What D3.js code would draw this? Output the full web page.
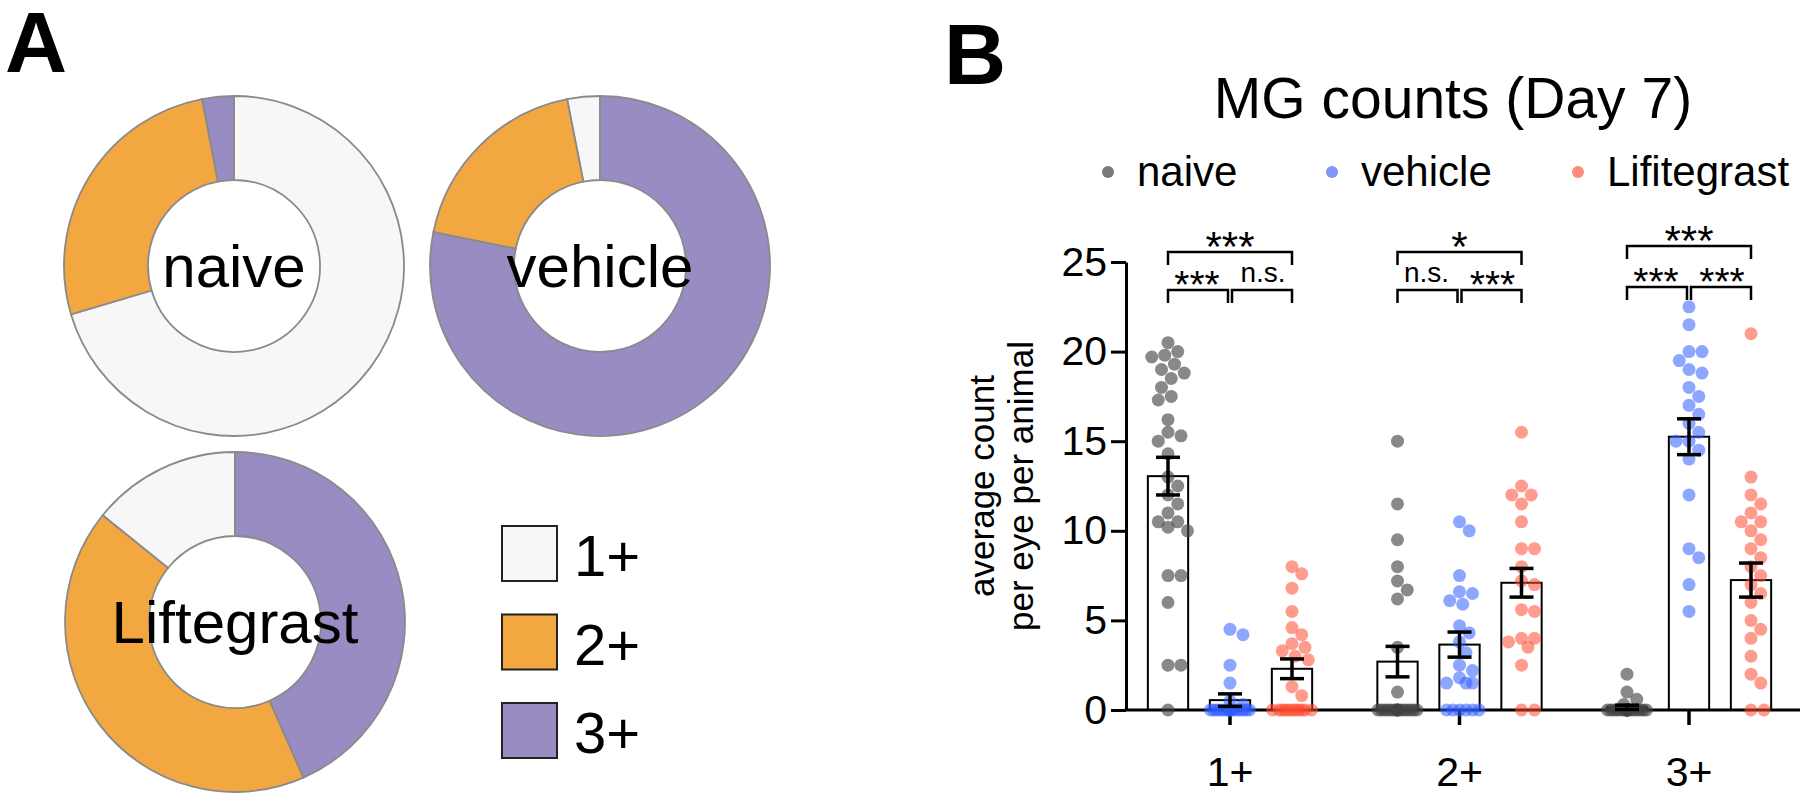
<!DOCTYPE html>
<html>
<head>
<meta charset="utf-8">
<script src="https://cdn.jsdelivr.net/npm/d3@7"></script>
<style>
body{margin:0;background:#fff;}
svg{font-family:"Liberation Sans",Arial,sans-serif;}
</style>
</head>
<body>
<div id="container"></div>
<script>
// panel A: share of eyes per MG grade
var grades = ['1+', '2+', '3+'];
var gradeColors = ['#f7f7f7', '#f3a740', '#998cc3'];
var pieNames = ['naive', 'vehicle', 'Liftegrast'];
var pieNaive = [70.4, 26.6, 3.0];
var pieVehicle = [3.1, 18.7, 78.2];
var pieLift = [14.2, 42.4, 43.4];

// panel B: MG counts per grade
var groups = ['naive', 'vehicle', 'Lifitegrast'];
var legendColors = ['#7a7a7a', '#7b98fb', '#fc8c7a'];
var dotColors = ['#404040', '#2f5cff', '#ff4a30'];
var yTicks = [0, 5, 10, 15, 20, 25];

var mean1 = [13.05, 0.55, 2.3];
var mean2 = [2.7, 3.65, 7.1];
var mean3 = [0.15, 15.25, 7.25];
var sem1 = [1.05, 0.35, 0.55];
var sem2 = [0.85, 0.7, 0.8];
var sem3 = [0.12, 1.0, 0.95];

var pts1Naive = [20.5, 20, 19.8, 19.7, 19.3, 19, 18.8, 18.5, 18, 17.5, 17.3, 16.2, 15.5, 15.3, 15, 14.3, 13, 12.5, 12, 11.5, 11, 10.5, 10.5, 10.2, 10, 7.5, 7.5, 6, 2.5, 2.5, 0];
var pts1Vehicle = [4.5, 4.2, 2.5, 1.5, 0.5, 0.3, 0, 0, 0, 0, 0, 0, 0, 0, 0, 0, 0, 0, 0, 0, 0, 0];
var pts1Lift = [8, 7.6, 6.8, 5.5, 4.6, 4.2, 3.7, 3.5, 3.3, 3, 2.8, 1.3, 0.8, 0, 0, 0, 0, 0, 0, 0, 0, 0, 0, 0];
var pts2Naive = [15, 11.5, 9.5, 8, 7.2, 6.7, 6.2, 3.5, 1, 0, 0, 0, 0, 0, 0, 0, 0, 0, 0, 0, 0, 0, 0, 0, 0];
var pts2Vehicle = [10.5, 10, 7.5, 6.6, 6.5, 6.1, 5.9, 4.7, 4.3, 3.8, 3.2, 2.5, 2.2, 1.8, 1.5, 1.5, 1.5, 0, 0, 0, 0, 0, 0];
var pts2Lift = [15.5, 12.5, 12, 12, 11.5, 10.5, 9, 9, 8, 7.2, 7, 5.6, 5.5, 4, 4, 3.8, 3.5, 2.5, 0, 0];
var pts3Naive = [2, 1, 0.6, 0.3, 0, 0, 0, 0, 0, 0, 0, 0, 0, 0, 0, 0, 0, 0, 0, 0, 0, 0, 0, 0];
var pts3Vehicle = [22.5, 21.5, 20, 20, 19.5, 19, 18.8, 18, 17.5, 17, 16.5, 16, 15.5, 15, 15, 14.5, 14, 12, 9, 8.5, 7, 5.5];
var pts3Lift = [21, 13, 12, 11.5, 11, 10.5, 10.5, 10, 9.5, 9, 8.5, 8, 7.5, 7, 6.5, 6, 5, 4.5, 4, 3, 2, 1.5, 0, 0];

var sigTop = ['***', '*', '***'];
var sigLeft = ['***', 'n.s.', '***'];
var sigRight = ['n.s.', '***', '***'];

function drawDonuts(svg){
    var pieData = [pieNaive, pieVehicle, pieLift];
    var centers = [[234, 266], [600, 266], [235, 622]];
    var arc = d3.arc().innerRadius(86).outerRadius(170);
    var pie = d3.pie().value(function(d){ return d.v; });
    for(var i = 0; i < pieData.length; i++){
        var rows = pieData[i].map(function(v, j){ return {v: v, c: gradeColors[j]}; });
        var g = svg.append('g').attr('transform', 'translate(' + centers[i][0] + ',' + centers[i][1] + ')');
        g.selectAll('path').data(pie(rows)).enter().append('path')
            .attr('d', arc)
            .attr('fill', function(d){ return d.data.c; })
            .attr('stroke', '#8a8a8a')
            .attr('stroke-width', 1.8);
        g.append('text')
            .attr('x', 0)
            .attr('y', 21)
            .attr('text-anchor', 'middle')
            .attr('font-size', 60)
            .text(pieNames[i]);
    }
    for(var j = 0; j < grades.length; j++){
        var y = 526 + j*88.5;
        svg.append('rect')
            .attr('x', 502).attr('y', y)
            .attr('width', 55).attr('height', 55)
            .attr('fill', gradeColors[j])
            .attr('stroke', '#222').attr('stroke-width', 2);
        svg.append('text')
            .attr('x', 574).attr('y', y + 50)
            .attr('font-size', 58)
            .text(grades[j]);
    }
}

function swarm(values, cx, y, r, maxOff){
    var placed = [];
    var step = r*0.5;
    var sorted = values.slice().sort(function(a, b){ return b - a; });
    sorted.forEach(function(v){
        var py = y(v), best = 0, bestD = -1;
        for(var k = 0; k < 200; k++){
            var off = (k%2 ? 1 : -1)*Math.ceil(k/2)*step;
            if(Math.abs(off) > maxOff) break;
            var md = 1e9;
            placed.forEach(function(p){
                var d = Math.hypot(p.x - (cx + off), p.y - py);
                if(d < md) md = d;
            });
            if(md >= 2*r*0.92){ best = off; bestD = md; break; }
            if(md > bestD){ bestD = md; best = off; }
        }
        placed.push({x: cx + best, y: py, v: v});
    });
    return placed;
}

function drawBars(svg){
    var axisX = 1126, width = 1800;
    var means = [mean1, mean2, mean3];
    var sems = [sem1, sem2, sem3];
    var pts = [[pts1Naive, pts1Vehicle, pts1Lift], [pts2Naive, pts2Vehicle, pts2Lift], [pts3Naive, pts3Vehicle, pts3Lift]];

    var y = d3.scaleLinear().domain([0, 25]).range([710, 262]);
    var x0 = d3.scaleBand().domain(grades).range([1115.25, 1803.75]);
    var x1 = d3.scaleBand().domain(groups).range([21.75, 207.75]).paddingInner(0.35).paddingOuter(0.175);

    svg.append('text')
        .attr('x', 944).attr('y', 84)
        .attr('font-size', 86).attr('font-weight', 'bold')
        .text('B');
    svg.append('text')
        .attr('x', 1453).attr('y', 118)
        .attr('text-anchor', 'middle')
        .attr('font-size', 57)
        .text('MG counts (Day 7)');

    var legX = [1108, 1332, 1578];
    for(var i = 0; i < groups.length; i++){
        svg.append('circle').attr('cx', legX[i]).attr('cy', 172).attr('r', 6).attr('fill', legendColors[i]);
        svg.append('text').attr('x', legX[i] + 29).attr('y', 186).attr('font-size', 42).text(groups[i]);
    }

    var yAxis = svg.append('g')
        .attr('transform', 'translate(' + axisX + ',0)')
        .call(d3.axisLeft(y).tickValues(yTicks).tickSize(15).tickSizeOuter(0).tickPadding(4));
    yAxis.selectAll('path, line').attr('stroke', '#000').attr('stroke-width', 3);
    yAxis.selectAll('text').attr('font-size', 41).attr('fill', '#000').attr('font-family', '"Liberation Sans",Arial,sans-serif');

    var xAxis = svg.append('g')
        .attr('transform', 'translate(0,' + y(0) + ')')
        .call(d3.axisBottom(x0).tickSize(15).tickSizeOuter(0).tickPadding(32));
    xAxis.select('.domain').remove();
    xAxis.selectAll('line').attr('stroke', '#000').attr('stroke-width', 3.5);
    xAxis.selectAll('text').attr('font-size', 41).attr('fill', '#000').attr('font-family', '"Liberation Sans",Arial,sans-serif');
    svg.append('line')
        .attr('x1', axisX - 1.5).attr('x2', width)
        .attr('y1', y(0)).attr('y2', y(0))
        .attr('stroke', '#000').attr('stroke-width', 3);

    svg.append('text')
        .attr('transform', 'translate(994,486) rotate(-90)')
        .attr('text-anchor', 'middle')
        .attr('font-size', 35)
        .selectAll('tspan').data(['average count', 'per eye per animal']).enter().append('tspan')
        .attr('x', 0)
        .attr('dy', function(d, i){ return i ? 39 : 0; })
        .text(function(d){ return d; });

    grades.forEach(function(gr, gi){
        var gx = x0(gr);
        groups.forEach(function(grp, si){
            var bx = gx + x1(grp);
            var cx = bx + x1.bandwidth()/2;
            svg.append('rect')
                .attr('x', bx).attr('y', y(means[gi][si]))
                .attr('width', x1.bandwidth())
                .attr('height', y(0) - y(means[gi][si]))
                .attr('fill', 'none')
                .attr('stroke', '#000').attr('stroke-width', 2);
            var dots = swarm(pts[gi][si], cx, y, 6.5, 22);
            svg.selectAll(null).data(dots).enter().append('circle')
                .attr('cx', function(d){ return d.x; })
                .attr('cy', function(d){ return d.y; })
                .attr('r', 6.5)
                .attr('fill', dotColors[si])
                .attr('fill-opacity', si == 0 ? 0.62 : 0.55);
            var lo = y(Math.max(0, means[gi][si] - sems[gi][si])), hi = y(means[gi][si] + sems[gi][si]);
            var eb = svg.append('g').attr('stroke', '#000').attr('stroke-width', 3.5);
            eb.append('line').attr('x1', cx).attr('x2', cx).attr('y1', lo).attr('y2', hi);
            eb.append('line').attr('x1', cx - 12).attr('x2', cx + 12).attr('y1', lo).attr('y2', lo);
            eb.append('line').attr('x1', cx - 12).attr('x2', cx + 12).attr('y1', hi).attr('y2', hi);
        });

        // significance brackets
        var c = groups.map(function(grp){ return gx + x1(grp) + x1.bandwidth()/2; });
        var upY = 252 + (gi == 2 ? -6 : 0), lowY = 290 + (gi == 2 ? -3 : 0);
        var br = svg.append('g').attr('fill', 'none').attr('stroke', '#000').attr('stroke-width', 2.5);
        br.append('path').attr('d', 'M' + c[0] + ',' + (upY + 13) + 'V' + upY + 'H' + c[2] + 'V' + (upY + 13));
        br.append('path').attr('d', 'M' + (c[0]) + ',' + (lowY + 13) + 'V' + lowY + 'H' + (c[1] - 2) + 'V' + (lowY + 13));
        br.append('path').attr('d', 'M' + (c[1] + 2) + ',' + (lowY + 13) + 'V' + lowY + 'H' + c[2] + 'V' + (lowY + 13));
        var labels = [[sigTop[gi], (c[0] + c[2])/2, upY - 7, 42], [sigLeft[gi], (c[0] + c[1])/2 - 2, lowY - 8, 39], [sigRight[gi], (c[1] + c[2])/2 + 2, lowY - 8, 39]];
        labels.forEach(function(l){
            var star = l[0].indexOf('*') >= 0;
            svg.append('text')
                .attr('x', l[1])
                .attr('y', star ? l[2] + 16 : l[2])
                .attr('text-anchor', 'middle')
                .attr('font-size', star ? l[3] : 28)
                .text(l[0]);
        });
    });
}

var svg = d3.select('#container').append('svg')
    .attr('width', 1800)
    .attr('height', 797);
svg.append('text')
    .attr('x', 5).attr('y', 72)
    .attr('font-size', 86).attr('font-weight', 'bold')
    .text('A');
drawDonuts(svg);
drawBars(svg);
</script>
</body>
</html>
